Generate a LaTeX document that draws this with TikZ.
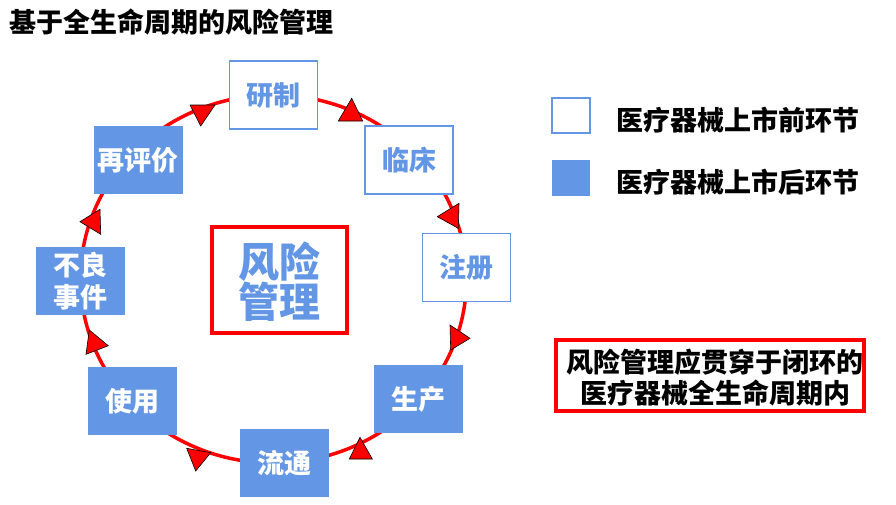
\documentclass[tikz,border=0pt]{standalone}
\usepackage{fontspec}
\setmainfont{Noto Sans CJK SC}
\definecolor{myblue}{RGB}{99,150,228}
\begin{document}
\begin{tikzpicture}[x=1pt,y=-1pt,
  lab/.style={font=\bfseries\fontsize{27}{32}\selectfont, align=center, inner sep=0pt},
  prebox/.style={lab, rectangle, draw=myblue, line width=1.2pt, fill=white, text=myblue, minimum width=88, minimum height=68},
  postbox/.style={lab, rectangle, fill=myblue, text=white, minimum width=89, minimum height=68},
  tri/.style={fill=red, draw=black, line width=0.6pt, line join=miter},
  ring/.style={red, line width=3.5pt}
]
\useasboundingbox (0,0) rectangle (896,504);
% title
\node[lab, anchor=west, text=black] (title) at (9,22) {基于全生命周期的风险管理};
% ring
\draw[ring] (273.5,279) ellipse [x radius=193, y radius=184];
% arrowheads
\draw[tri] (190,105) -- (215,105) -- (200.7,126) -- cycle;
\draw[tri] (351.7,98.3) -- (338.3,121) -- (362.7,121) -- cycle;
\draw[tri] (437.3,216.7) -- (459,203.3) -- (458.3,228.3) -- cycle;
\draw[tri] (450,325) -- (470,338.3) -- (450.7,350) -- cycle;
\draw[tri] (360,437.3) -- (349.3,459) -- (372.3,459) -- cycle;
\draw[tri] (186.7,448.3) -- (210.7,452.7) -- (195.7,471) -- cycle;
\draw[tri] (89.3,330) -- (108.3,345.7) -- (86,354.3) -- cycle;
\draw[tri] (80,221.7) -- (100,209.3) -- (100.7,234.3) -- cycle;
% stage boxes
\node[prebox] (yanzhi) at (273.5,95) {研制};
\node[prebox] (linchuang) at (409,160) {临床};
\node[prebox] (zhuce) at (466.5,267.5) {注册};
\node[postbox] (shengchan) at (418.5,399) {生产};
\node[postbox] (liutong) at (284,463) {流通};
\node[postbox] (shiyong) at (132,401) {使用};
\node[postbox] (buliang) at (80.5,281) {不良\\事件};
\node[postbox] (zaipingjia) at (138.3,160.3) {再评价};
% centre box
\node[draw=red, line width=4pt, minimum width=135, minimum height=106, inner sep=0pt] (centre) at (279.5,280) {};
\node[lab, text=myblue, font=\bfseries\fontsize{41}{40}\selectfont] (centretext) at (279.5,282) {风险\\管理};
% legend
\node[rectangle, draw=myblue, line width=1.2pt, fill=white, minimum width=38, minimum height=35, inner sep=0pt] (legpre) at (571,115.5) {};
\node[rectangle, fill=myblue, minimum width=38, minimum height=36, inner sep=0pt] (legpost) at (571,178) {};
\node[lab, anchor=west, text=black] (legpretext) at (616,120) {医疗器械上市前环节};
\node[lab, anchor=west, text=black] (legposttext) at (616,182) {医疗器械上市后环节};
% note box
\node[draw=red, line width=4pt, minimum width=308, minimum height=71, inner sep=0pt] (note) at (710,375) {};
\node[lab, text=black, font=\bfseries\fontsize{27}{31}\selectfont] (notetext) at (715,377.5) {风险管理应贯穿于闭环的\\医疗器械全生命周期内};
\end{tikzpicture}
\end{document}
